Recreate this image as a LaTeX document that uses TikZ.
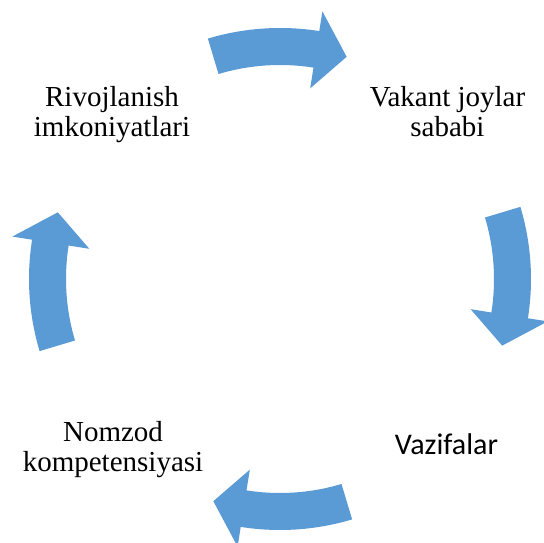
\documentclass[tikz,border=0pt]{standalone}
\usepackage{fontspec}
\setmainfont{Liberation Serif}
\newfontfamily\calib{Carlito}
\definecolor{arrowblue}{HTML}{5B9BD5}
\newcommand{\cyclearrow}[2]{%
  \pgfmathsetmacro{\ta}{#1+16.7}%
  \pgfmathsetmacro{\ba}{#1-9}%
  \pgfmathsetmacro{\pa}{#1-16.7}%
  \fill[arrowblue] (\ta:251) arc[start angle=\ta, end angle=\ba, radius=251]
     -- (\ba:271) -- (\pa:232) -- (\ba:193) -- (\ba:214)
     arc[start angle=\ba, end angle=\ta, radius=214] -- cycle;
}
\tikzset{
  lbl/.style={anchor=base, inner sep=0pt, align=center, font=\fontsize{29}{30}\selectfont},
  lblsans/.style={anchor=base, inner sep=0pt, align=center, font=\calib\fontsize{30}{32}\selectfont}
}
\begin{document}
\begin{tikzpicture}[x=1pt,y=1pt]
\useasboundingbox (0,0) rectangle (544,543);
\begin{scope}[shift={(280,264)}]
  \cyclearrow{90}{a1}
  \cyclearrow{0}{a2}
  \cyclearrow{-90}{a3}
  \cyclearrow{180}{a4}
\end{scope}
\node[lbl] (rivoj) at (112,406) {Rivojlanish\\imkoniyatlari};
\node[lbl] (vakant) at (447.5,406) {Vakant joylar\\sababi};
\node[lbl] (nomzod) at (113,71) {Nomzod\\kompetensiyasi};
\node[lblsans] (vazifa) at (446.5,88) {Vazifalar};
\end{tikzpicture}
\end{document}
